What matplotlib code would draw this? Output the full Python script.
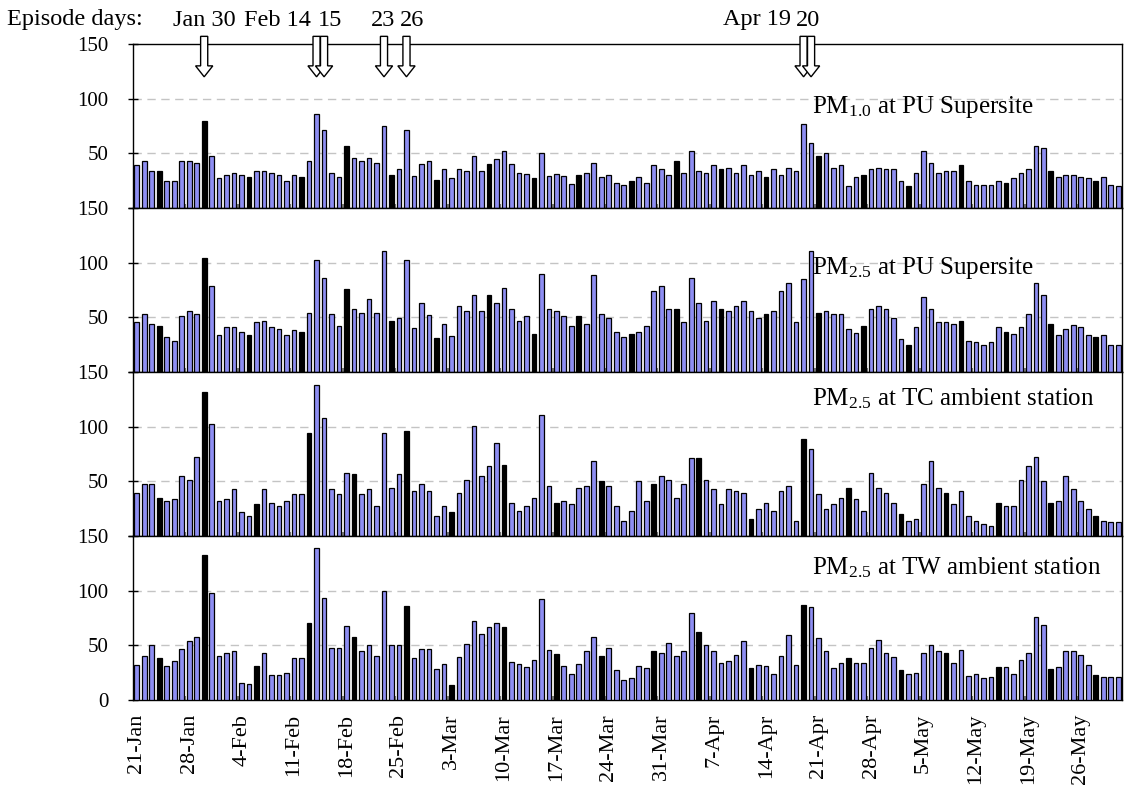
import numpy as np
import pandas as pd
import matplotlib
matplotlib.use("Agg")
import matplotlib.pyplot as plt
import matplotlib.transforms as mtransforms
from matplotlib.patches import FancyArrow

plt.rcParams['font.family'] = ['Liberation Serif', 'DejaVu Serif']
plt.rcParams['mathtext.fontset'] = 'custom'
plt.rcParams['mathtext.rm'] = 'Liberation Serif'
plt.rcParams['mathtext.it'] = 'Liberation Serif:italic'

# ---- daily data, 21 Jan - 31 May (leap year) ----
dates = pd.date_range('2008-01-21', '2008-05-31', freq='D')

pm1_pu = [39, 43, 34, 34, 25, 25, 43, 43, 41, 80,
          48, 27, 30, 32, 30, 28, 34, 34, 32, 30,
          25, 30, 28, 43, 86, 71, 32, 28, 57, 46,
          43, 46, 41, 75, 30, 36, 71, 29, 40, 43,
          26, 36, 27, 36, 34, 48, 34, 40, 45, 52,
          40, 32, 31, 27, 50, 29, 31, 29, 22, 30,
          32, 41, 28, 30, 23, 21, 25, 28, 23, 39,
          36, 30, 43, 32, 52, 34, 32, 39, 36, 37,
          32, 39, 30, 34, 28, 36, 30, 37, 34, 77,
          59, 48, 50, 37, 39, 20, 28, 30, 36, 37,
          36, 36, 25, 20, 32, 52, 41, 32, 34, 34,
          39, 25, 21, 21, 21, 25, 23, 27, 32, 36,
          57, 55, 34, 28, 30, 30, 28, 27, 25, 28,
          21, 20]

pm25_pu = [46, 53, 44, 42, 32, 28, 51, 56, 53, 104,
           79, 34, 41, 41, 37, 34, 46, 47, 41, 39,
           34, 38, 37, 54, 102, 86, 53, 42, 76, 58,
           54, 67, 54, 111, 47, 49, 102, 40, 63, 52,
           31, 44, 33, 60, 56, 70, 56, 70, 63, 77,
           58, 47, 51, 35, 90, 58, 56, 51, 42, 51,
           44, 89, 53, 49, 37, 32, 35, 37, 42, 74,
           79, 58, 58, 46, 86, 63, 47, 65, 58, 56,
           60, 65, 56, 49, 53, 56, 74, 81, 46, 85,
           111, 54, 56, 53, 53, 39, 36, 42, 58, 60,
           58, 49, 30, 25, 41, 69, 58, 46, 46, 44,
           47, 28, 27, 25, 27, 41, 37, 35, 41, 53,
           81, 70, 44, 34, 39, 43, 41, 34, 32, 34,
           25, 25]

pm25_tc = [39, 48, 48, 35, 32, 34, 55, 51, 72, 132,
           102, 32, 34, 43, 22, 18, 29, 43, 30, 27,
           32, 38, 38, 94, 138, 108, 43, 38, 58, 57,
           38, 43, 27, 94, 44, 57, 96, 41, 48, 41,
           18, 27, 22, 39, 51, 101, 55, 64, 85, 65,
           30, 23, 27, 35, 111, 46, 30, 32, 29, 44,
           46, 69, 50, 46, 27, 14, 23, 50, 32, 48,
           55, 51, 35, 48, 71, 71, 51, 43, 29, 43,
           41, 39, 16, 25, 30, 23, 41, 46, 14, 89,
           80, 38, 25, 29, 35, 44, 34, 23, 58, 44,
           39, 30, 20, 14, 16, 48, 69, 44, 39, 29,
           41, 18, 14, 11, 9, 30, 27, 27, 51, 64,
           72, 50, 30, 32, 55, 43, 32, 25, 18, 14,
           13, 13]

pm25_tw = [32, 40, 50, 38, 31, 36, 47, 54, 58, 133,
           98, 40, 43, 45, 16, 15, 31, 43, 23, 23,
           25, 38, 38, 70, 139, 93, 48, 48, 68, 58,
           45, 50, 40, 100, 50, 50, 86, 38, 47, 47,
           28, 33, 14, 39, 51, 72, 60, 67, 70, 67,
           35, 33, 30, 37, 92, 46, 42, 31, 24, 33,
           45, 58, 40, 48, 27, 18, 20, 31, 29, 45,
           43, 52, 40, 45, 80, 62, 50, 45, 34, 36,
           41, 54, 29, 32, 31, 24, 40, 59, 32, 87,
           85, 57, 45, 29, 34, 38, 34, 34, 48, 55,
           43, 39, 27, 24, 25, 43, 50, 45, 43, 34,
           46, 22, 24, 20, 21, 30, 30, 24, 37, 43,
           76, 69, 28, 30, 45, 45, 41, 32, 23, 21,
           21, 21]

# bars that come out solid black in the printed chart
dark_a = [3, 9, 15, 22, 28, 34, 40, 47, 53, 59, 66, 72, 78, 84, 91, 97,
          103, 110, 116, 122, 128]
dark_b = [3, 9, 16, 23, 29, 36, 42, 49, 56, 62, 69, 75, 82, 89, 95, 102,
          108, 115, 122, 128]

series = [pm1_pu, pm25_pu, pm25_tc, pm25_tw]
dark = [dark_a, dark_a, dark_b, dark_b]
titles = [r'PM$_{\mathrm{1.0}}$ at PU Supersite',
          r'PM$_{\mathrm{2.5}}$ at PU Supersite',
          r'PM$_{\mathrm{2.5}}$ at TC ambient station',
          r'PM$_{\mathrm{2.5}}$ at TW ambient station']
title_y = [92, 95, 126, 121]

episode_days = ['2008-01-30', '2008-02-14', '2008-02-15', '2008-02-23',
                '2008-02-26', '2008-04-19', '2008-04-20']
# (text, x position in days, alignment, nudge in points)
episode_text = [('Jan 30', 9, 'center', 0), ('Feb 14', 24.5, 'right', -6.7),
                ('15', 24.5, 'left', -1.7), ('23', 33, 'center', -0.7),
                ('26', 36, 'center', 4), ('Apr 19', 89.5, 'right', -11.7),
                ('20', 89.5, 'left', -8)]

tick_labels = [f"{d.day}-{d.strftime('%b')}" for d in dates[::7]]

# ---- figure layout (pixel based, 4 stacked panels) ----
W, H = 1126, 788
fig = plt.figure(figsize=(W / 100, H / 100), dpi=100)
left_px, right_px, top_px, ph = 133, 1122, 44, 164

bar_c = '#8E8EF2'
x = np.arange(len(dates))
axes = []
for k, vals in enumerate(series):
    bottom = H - (top_px + (k + 1) * ph)
    ax = fig.add_axes([left_px / W, bottom / H, (right_px - left_px) / W, ph / H])
    cols = [bar_c] * len(vals)
    for i in dark[k]:
        cols[i] = 'black'
    ax.bar(x, vals, width=0.62, color=cols, edgecolor='black', linewidth=0.9, zorder=3)
    for g in (50, 100):
        ax.axhline(g, color='#C4C4C4', lw=1.0, ls=(0, (6, 4)), zorder=1)
    ax.set_xlim(-0.5, len(x) - 0.5)
    ax.set_ylim(0, 150)
    ax.set_yticks([0, 50, 100, 150])
    ax.set_yticklabels(['0' if k == 3 else '', '50', '100', '150'])
    ax.tick_params(axis='y', direction='inout', length=7, width=1, pad=14, labelsize=15)
    ax.set_xticks(x[::7])
    ax.set_xticks(np.arange(6.5, len(x), 7), minor=True)
    ax.tick_params(axis='x', which='minor', direction='in', length=3, width=1.5, color='#808080')
    if k == 3:
        ax.set_xticklabels(tick_labels, rotation=90, fontsize=16)
        ax.tick_params(axis='x', which='major', length=0, pad=10)
    else:
        ax.tick_params(axis='x', which='major', length=0, labelbottom=False)
    for s in ax.spines.values():
        s.set_linewidth(1.0)
    tr = mtransforms.blended_transform_factory(ax.transAxes, ax.transData)
    ax.text(0.687, title_y[k], titles[k], transform=tr, fontsize=18, va='center', ha='left')
    axes.append(ax)

# ---- episode markers above the top panel ----
ax0 = axes[0]
ep_idx = [dates.get_loc(pd.Timestamp(d)) for d in episode_days]
for i in ep_idx:
    ax0.add_patch(FancyArrow(i, 157, 0, -37, width=0.95, head_width=2.3, head_length=10,
                             length_includes_head=True, facecolor='white',
                             edgecolor='black', lw=1.0, clip_on=False, zorder=6))

head_y = 1 - 20 / H
fig.text(7 / W, head_y, 'Episode days:', fontsize=17.5, va='center', ha='left')
btr = mtransforms.blended_transform_factory(ax0.transData, fig.transFigure)
for txt, xi, ha, dx in episode_text:
    ax0.annotate(txt, xy=(xi, head_y), xycoords=btr, xytext=(dx, 0),
                 textcoords='offset points', fontsize=17.5, ha=ha, va='center',
                 annotation_clip=False)

fig.savefig('out.png', dpi=100)
